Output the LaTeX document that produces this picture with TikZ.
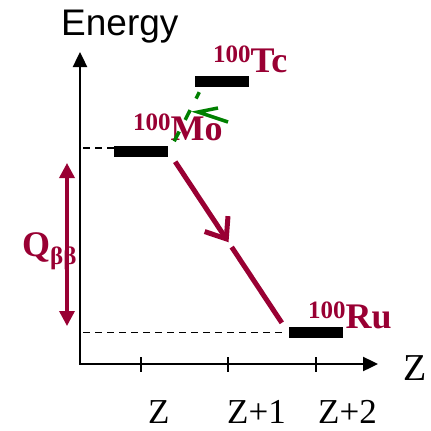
\documentclass[tikz,border=0pt]{standalone}
\usepackage{fontspec}
\setmainfont{Liberation Serif}
\setsansfont{Liberation Sans}
\usepackage{xcolor}
\usetikzlibrary{arrows.meta, calc}
\definecolor{nucred}{HTML}{990033}
\definecolor{forbgreen}{HTML}{008000}
\newcommand{\nuc}[2]{\raisebox{10pt}{\fontsize{25}{25}\selectfont #1}#2}

\begin{document}
\begin{tikzpicture}[x=1pt, y=-1pt,
        axis/.style={line width=2.4pt, {Triangle[length=15pt, width=14pt]}-{Triangle[length=15pt, width=14pt]}},
        tick/.style={line width=1.8pt},
        level/.style={fill=black, inner sep=0pt, minimum width=54pt, minimum height=11pt},
        guide/.style={line width=1.5pt, dash pattern=on 7pt off 5pt},
        iso/.style={text=nucred, font=\fontsize{36}{36}\selectfont\bfseries, inner sep=0pt, anchor=base west},
        zlab/.style={font=\fontsize{35}{35}\selectfont, inner sep=0pt, anchor=base west},
        decay/.style={nucred, line width=5pt},
        forbid/.style={forbgreen, line width=3.5pt},
        qarrow/.style={nucred, line width=3.4pt, {Triangle[length=15pt, width=15pt]}-{Triangle[length=15pt, width=15pt]}},
    ]
    \useasboundingbox (0,0) rectangle (431,431);

    % Axes
    \coordinate (orig) at (80,364);
    \coordinate (etop) at (80,52);
    \coordinate (zend) at (378,364);
    \draw[axis] (etop) -- (orig) -- (zend);
    \node[font=\fontsize{37}{37}\sffamily, inner sep=0pt, anchor=base west] (elab) at (61,35) {Energy};
    \node[font=\fontsize{38}{38}\selectfont, inner sep=0pt, anchor=base west] (zaxlab) at (403,380) {Z};

    % Ticks and charge labels
    \foreach \x/\lx/\lab [count=\i] in {141/148/Z, 228/227/Z+1, 316/318/Z+2} {
        \draw[tick] (\x,357) -- (\x,372);
        \node[zlab] (zl\i) at (\lx,423) {\lab};
    }

    % Levels
    \node[level] (mo) at (141,151) {};
    \node[level] (tc) at (221.5,81.5) {};
    \node[level] (ru) at (316,332.5) {};
    \draw[guide] ([yshift=3pt]mo.west) -- ([yshift=3pt]mo.west -| orig);
    \draw[guide] ([xshift=-7pt]ru.west) -- (ru.west -| orig);

    \node[iso] (molab) at (133,140) {\nuc{100}{Mo}};
    \node[iso] (tclab) at (213,72) {\nuc{100}{Tc}};
    \node[iso] (rulab) at (308,328) {\nuc{100}{Ru}};

    % Double beta decay
    \coordinate (dstart) at ($(mo.south east)+(7,5)$);
    \coordinate (dend) at ($(ru.north west)+(-7,-4)$);
    \draw[decay, -{Straight Barb[length=18pt, width=28pt]}] (dstart) -- ($(dstart)!0.5!(dend)$);
    \draw[decay] ($(dstart)!0.53!(dend)$) -- (dend);

    % Single beta (forbidden)
    \coordinate (fstart) at ($(mo.north east)+(6,-4)$);
    \coordinate (fend) at ($(tc.south west)+(5,5)$);
    \draw[forbid, dash pattern=on 11pt off 13pt] (fstart) -- (fend);
    \coordinate (ftip) at (198,112);
    \draw[forbid] ($(ftip)+(20,-4)$) -- (ftip) -- ($(ftip)+(30,10)$);

    % Q value
    \coordinate (qtop) at (67,163);
    \coordinate (qbot) at (67,326);
    \draw[qarrow] (qtop) -- (qbot);
    \node[text=nucred, font=\fontsize{36}{36}\selectfont\bfseries, inner sep=0pt, anchor=base west] (qlab) at (22,256) {Q\raisebox{-8pt}{\fontsize{25}{25}\selectfont ββ}};
\end{tikzpicture}
\end{document}
